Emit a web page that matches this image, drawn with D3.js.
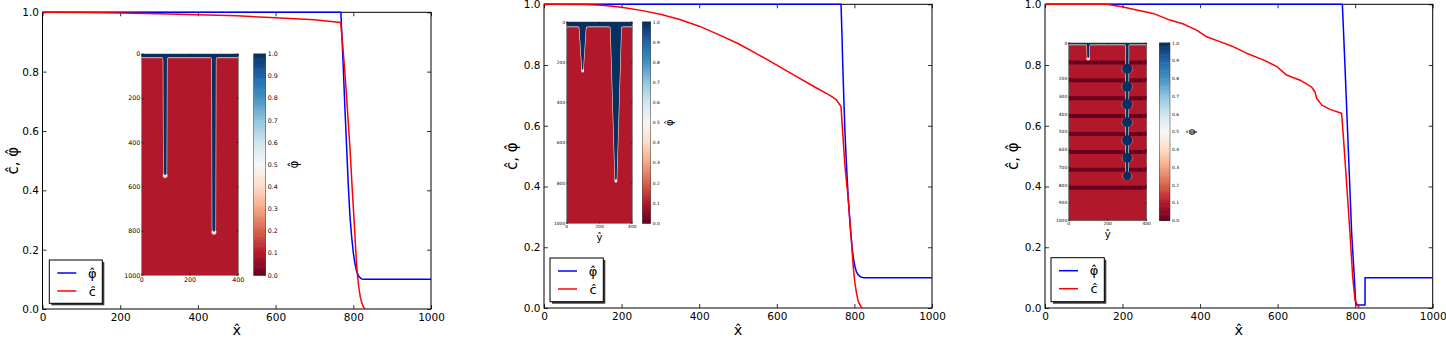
<!DOCTYPE html>
<html><head><meta charset="utf-8">
<script src="https://cdn.jsdelivr.net/npm/d3@7/dist/d3.min.js"></script>
<style>
html,body{margin:0;padding:0;background:#fff;}
svg{display:block;}
text{font-family:"DejaVu Sans",sans-serif;}
</style></head>
<body>
<svg id="chart" width="1446" height="339"></svg>
<script>
// ================= DATA =================
const xTickValues = [0, 200, 400, 600, 800, 1000];
const yTickValues = [0.0, 0.2, 0.4, 0.6, 0.8, 1.0];
const insetXTickValues = [0, 200, 400];
const insetYTickValuesAB = [0, 200, 400, 600, 800, 1000];
const insetYTickMarksC = [0, 100, 200, 300, 400, 500, 600, 700, 800, 900, 1000];
const insetYTickLabelsC = [0, 200, 300, 400, 500, 600, 700, 800, 900, 1000];
const colorbarTickValues = [0.0, 0.1, 0.2, 0.3, 0.4, 0.5, 0.6, 0.7, 0.8, 0.9, 1.0];
const rdbuColors = ['#67001f','#b2182b','#d6604d','#f4a582','#fddbc7','#f7f7f7','#d1e5f0','#92c5de','#4393c3','#2166ac','#053061'];
const seriesNames = ['\u03c6\u0302', 'c\u0302'];
const seriesColors = ['#0000ff', '#ff0000'];

// Panel A lines
const aPhiX = [0, 768, 771, 774, 778, 783, 787, 791.5, 796, 800, 804, 808.7, 815, 822, 830, 1000];
const aPhiY = [1.0, 1.0, 0.91, 0.82, 0.69, 0.54, 0.42, 0.31, 0.24, 0.19, 0.155, 0.126, 0.108, 0.101, 0.1, 0.1];
const aCX = [0, 100, 200, 300, 400, 500, 600, 700, 767.5, 772, 777, 782, 787, 792, 797, 802, 805, 808, 811, 814, 818, 822, 826, 831];
const aCY = [1.0, 0.9995, 0.998, 0.995, 0.992, 0.988, 0.982, 0.975, 0.966, 0.9, 0.82, 0.73, 0.63, 0.53, 0.41, 0.3, 0.23, 0.16, 0.11, 0.075, 0.04, 0.02, 0.007, 0.0];

// Panel B lines
const bPhiX = [0, 765.5, 768, 770, 773, 775.8, 780, 784.4, 789, 794.7, 798, 801.5, 805, 810, 816, 823, 1000];
const bPhiY = [1.0, 1.0, 0.9, 0.8, 0.68, 0.575, 0.46, 0.356, 0.27, 0.19, 0.16, 0.136, 0.12, 0.109, 0.102, 0.1, 0.1];
const bCX = [0, 100, 150, 200, 250, 300, 350, 400, 450, 500, 550, 600, 650, 700, 737, 754, 765.5, 770, 775.8, 784.4, 791, 797, 801, 805.6, 810, 816, 821];
const bCY = [1.0, 0.999, 0.997, 0.99, 0.98, 0.967, 0.95, 0.928, 0.9, 0.871, 0.836, 0.80, 0.763, 0.726, 0.70, 0.685, 0.663, 0.575, 0.465, 0.356, 0.246, 0.136, 0.085, 0.048, 0.022, 0.006, 0.0];

// Panel C lines
const cPhiX = [0, 767, 773.8, 782.4, 791, 797.8, 801.4, 804, 825.5, 825.5, 1000];
const cPhiY = [1.0, 1.0, 0.795, 0.52, 0.246, 0.103, 0.015, 0.01, 0.01, 0.1, 0.1];
const cCX = [0, 159, 198, 236.5, 279, 322, 357, 391, 417, 451, 486, 520, 563, 598, 623, 658, 688, 696, 701, 714, 735, 765, 769, 778, 786.7, 793.6, 799.6, 805.6, 810.7];
const cCY = [1.0, 1.0, 0.992, 0.981, 0.97, 0.948, 0.935, 0.915, 0.893, 0.877, 0.86, 0.839, 0.817, 0.795, 0.767, 0.75, 0.727, 0.712, 0.69, 0.668, 0.654, 0.641, 0.575, 0.41, 0.246, 0.103, 0.026, 0.01, 0.0];

// Inset fields (phi): top band depth, fingers (y-hat centre, x-hat tip depth, half widths)
const aBandDepth = 15;
const aFingerCentre = [97, 299];
const aFingerDepth = [547, 803];
const aFingerHalfTop = [7.5, 8];
const aFingerHalfTip = [6, 6.5];

const bBandDepth = 22;
const bFingerCentre = [97, 300];
const bFingerDepth = [238, 785];
const bFingerHalfTop = [19, 32];
const bFingerHalfTip = [4, 5];

const cBandDepth = 8;
const cFingerCentre = [100, 300];
const cFingerDepth = [85, 752];
const cFingerHalfTop = [6, 7];
const cFingerHalfTip = [5, 6];
const cBulbDepth = [145, 245, 345, 446, 548, 647, 748];
const cBulbCentre = [300, 300, 300, 300, 300, 300, 300];
const cBulbHalfWidth = [26, 26, 26, 26, 26, 25, 22];
const cStripeDepth = [110, 210, 311, 411, 512, 613, 713, 814];
const cStripeValue = 0.0;
const fieldBaseValue = 0.1;

// ================= DRAWING =================
const svg = d3.select('#chart');
const color = d3.scaleLinear().domain(d3.range(11).map(i => i / 10)).range(rdbuColors).interpolate(d3.interpolateRgb);
const navy = color(1);

const defs = svg.append('defs');
const glow = defs.append('radialGradient').attr('id', 'tipglow');
glow.append('stop').attr('offset', '0%').attr('stop-color', '#fffbe8').attr('stop-opacity', 1);
glow.append('stop').attr('offset', '60%').attr('stop-color', '#fcdcc6').attr('stop-opacity', 0.9);
glow.append('stop').attr('offset', '100%').attr('stop-color', color(0.1)).attr('stop-opacity', 0);

function fingers(cs, ds, hts, hps) {
  return cs.map((c, i) => ({c, depth: ds[i], hTop: hts[i], hTip: hps[i]}));
}

const panels = [
  {key: 'A', x0: 42.5, x1: 431, y0: 12.3, y1: 309, ylabX: 13,
   phi: d3.zip(aPhiX, aPhiY), conc: d3.zip(aCX, aCY),
   legend: {x: 49.3, y: 260, w: 53, h: 43.3},
   inset: {key: 'A', x0: 141.7, x1: 238.3, y0: 54, y1: 275.3, cb0: 253.7, cb1: 265.7, cbLabX: 294,
           font: 6.3, labFont: 12, ylabY: null, tick: 2,
           yTickMarks: insetYTickValuesAB, yTickLabels: insetYTickValuesAB,
           band: aBandDepth, flare: 7,
           fingers: fingers(aFingerCentre, aFingerDepth, aFingerHalfTop, aFingerHalfTip),
           bulbs: [], stripes: []}},
  {key: 'B', x0: 544, x1: 932, y0: 4.3, y1: 308, ylabX: 512,
   phi: d3.zip(bPhiX, bPhiY), conc: d3.zip(bCX, bCY),
   legend: {x: 550, y: 258, w: 53.3, h: 43.7},
   inset: {key: 'B', x0: 566.7, x1: 632.3, y0: 22, y1: 223.3, cb0: 642.3, cb1: 650.7, cbLabX: 669.5,
           font: 4.4, labFont: 10, ylabY: 241, tick: 1.5,
           yTickMarks: insetYTickValuesAB, yTickLabels: insetYTickValuesAB,
           band: bBandDepth, flare: 10,
           fingers: fingers(bFingerCentre, bFingerDepth, bFingerHalfTop, bFingerHalfTip),
           bulbs: [], stripes: []}},
  {key: 'C', x0: 1045, x1: 1432.7, y0: 4.3, y1: 308, ylabX: 1013,
   phi: d3.zip(cPhiX, cPhiY), conc: d3.zip(cCX, cCY),
   legend: {x: 1051, y: 257.7, w: 53.3, h: 44},
   inset: {key: 'C', x0: 1068.7, x1: 1146.7, y0: 43, y1: 220.7, cb0: 1159.3, cb1: 1170, cbLabX: 1191.5,
           font: 4.4, labFont: 10, ylabY: 237.5, tick: 1.5,
           yTickMarks: insetYTickMarksC, yTickLabels: insetYTickLabelsC,
           band: cBandDepth, flare: 7,
           fingers: fingers(cFingerCentre, cFingerDepth, cFingerHalfTop, cFingerHalfTip),
           bulbs: cBulbDepth.map((d, i) => ({depth: d, c: cBulbCentre[i], hw: cBulbHalfWidth[i]})),
           stripes: cStripeDepth}}
];

function tickStyle(sel, fs) {
  sel.select('.domain').remove();
  sel.attr('font-family', null).attr('font-size', null);
  sel.selectAll('line').attr('stroke', '#000').attr('stroke-width', 0.8);
  sel.selectAll('text').attr('font-family', '"DejaVu Sans"').attr('font-size', fs).attr('fill', '#000');
}

function fingerPath(d, xs, ys, band, flare) {
  const xl0 = xs(d.c - d.hTop - flare), xl1 = xs(d.c - d.hTop);
  const xr0 = xs(d.c + d.hTop + flare), xr1 = xs(d.c + d.hTop);
  const xtl = xs(d.c - d.hTip), xtr = xs(d.c + d.hTip);
  const ytop = ys(0) - 2;
  const yb = ys(band) - 0.3, yf = ys(band + flare * 1.5);
  const yt = ys(d.depth - d.hTip * 2.5), ytip = ys(d.depth);
  const rx = (xtr - xtl) / 2, ry = ytip - yt;
  return `M${xl0},${ytop} L${xl0},${yb} Q${xl1},${yb} ${xl1},${yf} L${xtl},${yt} A${rx},${ry} 0 0 0 ${xtr},${yt} L${xr1},${yf} Q${xr1},${yb} ${xr0},${yb} L${xr0},${ytop} Z`;
}

function drawInset(g, q) {
  const xs = d3.scaleLinear().domain([0, 400]).range([q.x0, q.x1]);
  const ys = d3.scaleLinear().domain([0, 1000]).range([q.y0, q.y1]);
  const id = 'clip' + q.key;
  g.append('clipPath').attr('id', id).append('rect')
    .attr('x', q.x0).attr('y', q.y0).attr('width', q.x1 - q.x0).attr('height', q.y1 - q.y0);
  const h = g.append('g').attr('clip-path', `url(#${id})`);
  h.append('rect').attr('x', q.x0).attr('y', q.y0).attr('width', q.x1 - q.x0).attr('height', q.y1 - q.y0)
    .attr('fill', color(fieldBaseValue));
  const sh = 11;
  h.selectAll('rect.stripe').data(q.stripes).join('rect').attr('class', 'stripe')
    .attr('x', q.x0).attr('width', q.x1 - q.x0)
    .attr('y', d => ys(d - sh)).attr('height', ys(2 * sh) - ys(0))
    .attr('fill', color(cStripeValue));
  // glows at finger tips / bulbs
  h.selectAll('ellipse.glow').data(q.fingers).join('ellipse').attr('class', 'glow')
    .attr('cx', d => xs(d.c)).attr('cy', d => ys(d.depth + 2))
    .attr('rx', d => xs(d.hTip + 8) - xs(0)).attr('ry', d => ys(16) - ys(0))
    .attr('fill', 'url(#tipglow)');
  h.selectAll('ellipse.bglow').data(q.bulbs).join('ellipse').attr('class', 'bglow')
    .attr('cx', d => xs(d.c)).attr('cy', d => ys(d.depth + 2))
    .attr('rx', d => xs(d.hw + 10) - xs(0)).attr('ry', d => ys(d.hw + 6) - ys(0))
    .attr('fill', 'url(#tipglow)');
  // halos
  h.append('rect').attr('x', q.x0).attr('y', q.y0).attr('width', q.x1 - q.x0)
    .attr('height', ys(q.band) - ys(0) + 0.8).attr('fill', color(0.42));
  h.selectAll('path.halo').data(q.fingers).join('path').attr('class', 'halo')
    .attr('d', d => fingerPath(d, xs, ys, q.band, q.flare))
    .attr('fill', 'none').attr('stroke', color(0.42)).attr('stroke-width', 1.2);
  // band
  h.append('rect').attr('x', q.x0).attr('y', q.y0).attr('width', q.x1 - q.x0)
    .attr('height', ys(q.band) - ys(0)).attr('fill', navy);
  h.selectAll('path.finger').data(q.fingers).join('path').attr('class', 'finger')
    .attr('d', d => fingerPath(d, xs, ys, q.band, q.flare)).attr('fill', navy);
  h.selectAll('ellipse.bulb').data(q.bulbs).join('ellipse').attr('class', 'bulb')
    .attr('cx', d => xs(d.c)).attr('cy', d => ys(d.depth))
    .attr('rx', d => xs(d.hw) - xs(0)).attr('ry', d => ys(d.hw * 1.1) - ys(0))
    .attr('fill', navy);
  // frame
  g.append('rect').attr('x', q.x0).attr('y', q.y0).attr('width', q.x1 - q.x0).attr('height', q.y1 - q.y0)
    .attr('fill', 'none').attr('stroke', '#333').attr('stroke-width', 0.5);
  // ticks
  const tk = g.append('g').attr('stroke', '#000').attr('stroke-width', 0.5);
  q.yTickMarks.forEach(v => {
    tk.append('line').attr('x1', q.x0).attr('x2', q.x0 + q.tick).attr('y1', ys(v)).attr('y2', ys(v));
    tk.append('line').attr('x1', q.x1).attr('x2', q.x1 - q.tick).attr('y1', ys(v)).attr('y2', ys(v));
  });
  insetXTickValues.forEach(v => {
    tk.append('line').attr('x1', xs(v)).attr('x2', xs(v)).attr('y1', q.y1).attr('y2', q.y1 - q.tick);
    tk.append('line').attr('x1', xs(v)).attr('x2', xs(v)).attr('y1', q.y0).attr('y2', q.y0 + q.tick);
  });
  g.selectAll('text.iy').data(q.yTickLabels).join('text').attr('class', 'iy')
    .attr('x', q.x0 - 1.5).attr('y', d => ys(d)).attr('dy', '0.35em')
    .attr('text-anchor', 'end').attr('font-size', q.font).text(d => d);
  g.selectAll('text.ix').data(insetXTickValues).join('text').attr('class', 'ix')
    .attr('x', d => xs(d)).attr('y', q.y1 + 1.2).attr('dy', '0.8em')
    .attr('text-anchor', 'middle').attr('font-size', q.font).text(d => d);
  if (q.ylabY) {
    g.append('text').attr('x', (q.x0 + q.x1) / 2).attr('y', q.ylabY).attr('text-anchor', 'middle')
      .attr('font-size', q.labFont).text('y\u0302');
  }
  // colorbar
  const cs = d3.scaleLinear().domain([0, 1]).range([q.y1, q.y0]);
  const steps = d3.range(0, 1, 0.005);
  g.selectAll('rect.cb').data(steps).join('rect').attr('class', 'cb')
    .attr('x', q.cb0).attr('width', q.cb1 - q.cb0)
    .attr('y', d => cs(d + 0.005) - 0.3).attr('height', cs(0) - cs(0.005) + 0.6)
    .attr('fill', d => color(d + 0.0025));
  g.append('rect').attr('x', q.cb0).attr('y', q.y0).attr('width', q.cb1 - q.cb0).attr('height', q.y1 - q.y0)
    .attr('fill', 'none').attr('stroke', '#333').attr('stroke-width', 0.5);
  colorbarTickValues.forEach(v => {
    tk.append('line').attr('x1', q.cb1).attr('x2', q.cb1 - q.tick).attr('y1', cs(v)).attr('y2', cs(v));
  });
  g.selectAll('text.cbt').data(colorbarTickValues).join('text').attr('class', 'cbt')
    .attr('x', q.cb1 + 2).attr('y', d => cs(d)).attr('dy', '0.35em')
    .attr('font-size', q.font).text(d => d3.format('.1f')(d));
  g.append('text').attr('transform', `translate(${q.cbLabX},${(q.y0 + q.y1) / 2}) rotate(-90)`)
    .attr('text-anchor', 'middle').attr('dy', '0.35em').attr('font-size', q.labFont).text('\u03c6\u0302');
}

panels.forEach(p => {
  const g = svg.append('g');
  const x = d3.scaleLinear().domain([0, 1000]).range([p.x0, p.x1]);
  const y = d3.scaleLinear().domain([0, 1]).range([p.y1, p.y0]);

  g.append('g').attr('transform', `translate(0,${p.y1})`)
    .call(d3.axisBottom(x).tickValues(xTickValues).tickFormat(d3.format('d')).tickSizeInner(-4).tickSizeOuter(0).tickPadding(4.5))
    .call(s => tickStyle(s, 10.5));
  g.append('g').attr('transform', `translate(0,${p.y0})`)
    .call(d3.axisTop(x).tickValues(xTickValues).tickFormat('').tickSizeInner(-4).tickSizeOuter(0))
    .call(s => tickStyle(s, 10.5));
  g.append('g').attr('transform', `translate(${p.x0},0)`)
    .call(d3.axisLeft(y).tickValues(yTickValues).tickFormat(d3.format('.1f')).tickSizeInner(-4).tickSizeOuter(0).tickPadding(3.5))
    .call(s => tickStyle(s, 10.5));
  g.append('g').attr('transform', `translate(${p.x1},0)`)
    .call(d3.axisRight(y).tickValues(yTickValues).tickFormat('').tickSizeInner(-4).tickSizeOuter(0))
    .call(s => tickStyle(s, 10.5));

  g.append('rect').attr('x', p.x0).attr('y', p.y0).attr('width', p.x1 - p.x0).attr('height', p.y1 - p.y0)
    .attr('fill', 'none').attr('stroke', '#000').attr('stroke-width', 1);

  const line = d3.line().x(d => x(d[0])).y(d => y(d[1]));
  [p.phi, p.conc].forEach((s, i) => {
    g.append('path').datum(s).attr('d', line).attr('fill', 'none')
      .attr('stroke', seriesColors[i]).attr('stroke-width', 1.5).attr('stroke-linejoin', 'round');
  });

  // axis labels
  g.append('text').attr('x', (p.x0 + p.x1) / 2).attr('y', 334.5).attr('text-anchor', 'middle')
    .attr('font-size', 14.5).text('x\u0302');
  g.append('text').attr('transform', `translate(${p.ylabX},${(p.y0 + p.y1) / 2}) rotate(-90)`)
    .attr('text-anchor', 'middle').attr('dy', '0.35em').attr('font-size', 15).text('c\u0302, \u03c6\u0302');

  drawInset(g, p.inset);

  // legend
  const L = p.legend;
  g.append('rect').attr('x', L.x + 2).attr('y', L.y + 2).attr('width', L.w).attr('height', L.h).attr('fill', '#3a3a3a');
  g.append('rect').attr('x', L.x).attr('y', L.y).attr('width', L.w).attr('height', L.h)
    .attr('fill', '#fff').attr('stroke', '#000').attr('stroke-width', 1);
  seriesNames.forEach((name, i) => {
    const yy = L.y + 13 + i * 18;
    g.append('line').attr('x1', L.x + 8).attr('x2', L.x + 27).attr('y1', yy).attr('y2', yy)
      .attr('stroke', seriesColors[i]).attr('stroke-width', 1.5);
    g.append('text').attr('x', L.x + 43).attr('y', yy).attr('dy', '0.35em').attr('text-anchor', 'middle')
      .attr('font-size', 13).text(name);
  });
});
</script>
</body></html>
